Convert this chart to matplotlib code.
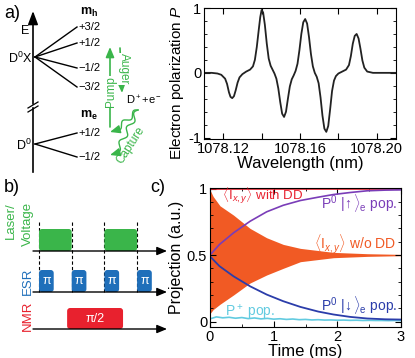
import numpy as np
import matplotlib.pyplot as plt
from matplotlib.patches import FancyBboxPatch
from matplotlib.ticker import MultipleLocator

plt.rcParams['font.family'] = ['Liberation Sans', 'DejaVu Sans']
plt.rcParams['mathtext.fontset'] = 'custom'
plt.rcParams['mathtext.rm'] = 'Liberation Sans'
plt.rcParams['mathtext.it'] = 'Liberation Sans:italic'
plt.rcParams['mathtext.bf'] = 'Liberation Sans:bold'
plt.rcParams['axes.unicode_minus'] = False

GREEN = '#3ab54a'
BLUE = '#1f6fba'
RED = '#e8212e'
ORANGE = '#f15a24'
PURPLE = '#7a3db8'
NAVY = '#2b3daa'
CYAN = '#62cbe0'

# spectrum (top right)
wavelength = [1078.110, 1078.114, 1078.117, 1078.119, 1078.121, 1078.122, 1078.123,
              1078.1238, 1078.1247, 1078.1256, 1078.1265, 1078.1275, 1078.1285,
              1078.130, 1078.132, 1078.134, 1078.1355, 1078.1365, 1078.1375,
              1078.1385, 1078.1393, 1078.1400, 1078.1408, 1078.1417, 1078.1427,
              1078.1437, 1078.1447, 1078.1457, 1078.1467, 1078.1477, 1078.1487,
              1078.1497, 1078.1507, 1078.1517, 1078.1527, 1078.1537, 1078.1547,
              1078.1557, 1078.1567, 1078.1577, 1078.1587, 1078.1597, 1078.1607,
              1078.1617, 1078.1627, 1078.1637, 1078.1647, 1078.1657, 1078.1667,
              1078.1677, 1078.1687, 1078.1697, 1078.1707, 1078.1717, 1078.1727,
              1078.1737, 1078.1747, 1078.1757, 1078.1767, 1078.1777, 1078.1787,
              1078.180, 1078.182, 1078.184, 1078.1855, 1078.1865, 1078.1875,
              1078.1885, 1078.1895, 1078.1905, 1078.1915, 1078.1925, 1078.1935,
              1078.195, 1078.198, 1078.210]
polarization = [0.00, 0.00, -0.01, -0.03, -0.09, -0.17, -0.30,
                -0.37, -0.39, -0.36, -0.27, -0.15, -0.07,
                -0.02, 0.02, 0.05, 0.10, 0.20, 0.40,
                0.66, 0.86, 0.97, 0.93, 0.74, 0.45,
                0.22, 0.11, 0.05, -0.01, -0.09, -0.24,
                -0.45, -0.63, -0.68, -0.60, -0.40, -0.21,
                -0.10, -0.04, 0.03, 0.14, 0.35, 0.60,
                0.78, 0.83, 0.76, 0.55, 0.29, 0.10,
                0.00, -0.06, -0.16, -0.38, -0.66, -0.86,
                -0.91, -0.82, -0.56, -0.28, -0.12, -0.05,
                -0.01, 0.02, 0.05, 0.12, 0.26, 0.45,
                0.57, 0.60, 0.53, 0.37, 0.19, 0.08,
                0.02, 0.00, 0.00]

# panel c: projections vs time (ms)
t_pop = [0.0, 0.15, 0.37, 0.63, 0.89, 1.15, 1.42, 1.7, 1.94, 2.2, 2.47, 2.75, 3.0]
p0_up = [0.50, 0.58, 0.667, 0.754, 0.825, 0.874, 0.91, 0.935, 0.955, 0.97, 0.983, 0.988, 0.99]
p0_down = [0.49, 0.416, 0.34, 0.265, 0.203, 0.153, 0.11, 0.075, 0.053, 0.035, 0.023, 0.017, 0.015]
t_env = [0.0, 0.05, 0.157, 0.37, 0.63, 0.89, 1.15, 1.42, 1.94, 2.47, 3.0]
ixy_hi = [0.99, 0.94, 0.87, 0.80, 0.70, 0.63, 0.58, 0.55, 0.52, 0.51, 0.505]
ixy_lo = [0.06, 0.09, 0.13, 0.20, 0.29, 0.35, 0.40, 0.45, 0.48, 0.49, 0.495]
t_dd = [0.0, 3.0]
ixy_dd = [1.0, 1.0]
t_plus = [0.0, 0.1, 0.2, 0.3, 0.4, 0.5, 0.6, 0.7, 0.8, 0.9, 1.0, 1.1, 1.2, 1.3, 1.4, 1.5,
          1.6, 1.7, 1.8, 1.9, 2.0, 2.1, 2.2, 2.3, 2.4, 2.5, 2.6, 2.7, 2.8, 2.9, 3.0]
p_plus = [0.02, 0.035, 0.028, 0.032, 0.025, 0.03, 0.022, 0.027, 0.02, 0.024, 0.018,
          0.021, 0.016, 0.019, 0.014, 0.016, 0.012, 0.014, 0.011, 0.012, 0.01, 0.011,
          0.009, 0.01, 0.008, 0.009, 0.008, 0.008, 0.007, 0.008, 0.007]

# energy levels
hole_mj = ['+3/2', '+1/2', '\u22121/2', '\u22123/2']
elec_mj = ['+1/2', '\u22121/2']

# pulse sequence, in units of the ESR pulse spacing
laser_pulses = [(0, 1), (2, 3)]
esr_pulses = [0, 1, 2, 3]
esr_width = 0.45
nmr_pulse = (0.86, 2.57)


def arrow(ax, x0, y0, x1, y1, color='k', lw=1.0, hl=0.6, hw=0.25):
    ax.annotate('', xy=(x1, y1), xytext=(x0, y0),
                arrowprops=dict(arrowstyle='-|>,head_length=%g,head_width=%g' % (hl, hw),
                                color=color, lw=lw, shrinkA=0, shrinkB=0))


def wavy(ax, p0, p1, waves, amp, color):
    s = np.linspace(0, 1, 200)
    d = np.array(p1) - np.array(p0)
    n = np.array([-d[1], d[0]]) / np.hypot(*d)
    off = amp * np.sin(2 * np.pi * waves * s)
    x = p0[0] + s * d[0] + off * n[0]
    y = p0[1] + s * d[1] + off * n[1]
    ax.plot(x, y, color=color, lw=1.0)


fig = plt.figure(figsize=(4.15, 3.58), dpi=100)

# overlay in pixel coordinates for the schematics
ov = fig.add_axes([0, 0, 1, 1])
ov.set_xlim(0, 415)
ov.set_ylim(358, 0)
ov.axis('off')

# ---- a) level diagram
ov.text(4, 14, 'a)', fontsize=13, va='center')
arrow(ov, 33, 104, 33, 11, lw=1.2, hl=0.8, hw=0.3)
ov.plot([33, 33], [108, 172], 'k', lw=1.2)
ov.plot([28, 38], [108, 102], 'k', lw=0.9)
ov.plot([28, 38], [112, 106], 'k', lw=0.9)
ov.text(29, 31, 'E', fontsize=9, ha='right', va='center')
ov.text(32, 58, 'D$^0$X', fontsize=9, ha='right', va='center')
ov.text(32, 145, 'D$^0$', fontsize=9, ha='right', va='center')

for lab, y in zip(hole_mj, [27, 43, 68, 87]):
    ov.plot([35, 77], [57, y], 'k', lw=1.0)
    ov.text(78, y, lab, fontsize=8, va='center')
for lab, y in zip(elec_mj, [133, 157]):
    ov.plot([35, 77], [144, y], 'k', lw=1.0)
    ov.text(78, y, lab, fontsize=8, va='center')
ov.text(89, 12, r'$\mathbf{m}_\mathbf{h}$', fontsize=9, ha='center', va='center')
ov.text(89, 115, r'$\mathbf{m}_\mathbf{e}$', fontsize=9, ha='center', va='center')

arrow(ov, 110, 127, 110, 47, color=GREEN, lw=1.2)
ov.text(111, 92, 'Pump', color=GREEN, fontsize=8.5, rotation=90, ha='center', va='center',
        bbox=dict(fc='white', ec='none', pad=0.5))
arrow(ov, 120, 48, 122, 93, color=GREEN, lw=1.2)
ov.text(124, 69, 'Auger', color=GREEN, fontsize=8.5, rotation=-90, ha='center', va='center',
        bbox=dict(fc='white', ec='none', pad=0.5))
ov.text(126, 100, r'D$^+$+e$^-$', fontsize=8, va='center')
wavy(ov, (138, 110), (116, 130), 2, 2.5, GREEN)
wavy(ov, (138, 110), (116, 153), 3, 2.5, GREEN)
arrow(ov, 117, 130, 110, 132, color=GREEN, lw=1.0)
arrow(ov, 117, 153, 110, 155, color=GREEN, lw=1.0)
ov.text(131, 145, 'Capture', color=GREEN, fontsize=8.5, rotation=57, ha='center', va='center')

# ---- b) pulse sequence
def tx(t):
    return 39 + 32.7 * t

y_laser, y_esr, y_nmr = 251, 292, 329
ov.text(4, 187, 'b)', fontsize=13, va='center')
ov.text(150, 187, 'c)', fontsize=13, va='center')
for t in esr_pulses:
    ov.plot([tx(t)] * 2, [222, y_esr], color='k', lw=0.8, dashes=(3, 2), zorder=1)
for t0, t1 in laser_pulses:
    ov.add_patch(FancyBboxPatch((tx(t0), 229), tx(t1) - tx(t0), y_laser - 229,
                                boxstyle='round,pad=0,rounding_size=3', fc=GREEN, ec='none', zorder=2))
for t in esr_pulses:
    ov.add_patch(FancyBboxPatch((tx(t), 270), 32.7 * esr_width, y_esr - 270,
                                boxstyle='round,pad=0,rounding_size=3', fc=BLUE, ec='none', zorder=2))
    ov.text(tx(t + esr_width / 2), 281, '\u03c0', color='white', fontsize=9,
            ha='center', va='center', zorder=3)
ov.add_patch(FancyBboxPatch((tx(nmr_pulse[0]), 308), tx(nmr_pulse[1]) - tx(nmr_pulse[0]), y_nmr - 308,
                            boxstyle='round,pad=0,rounding_size=3', fc=RED, ec='none', zorder=2))
ov.text(tx(sum(nmr_pulse) / 2), 318.5, '\u03c0/2', color='white', fontsize=9,
        ha='center', va='center', zorder=3)
for y in [y_laser, y_esr, y_nmr]:
    arrow(ov, 33, y, 167, y, lw=1.0)
ov.text(11, 202, 'Laser/', color=GREEN, fontsize=9.5, rotation=90, ha='center', va='top')
ov.text(28, 202, 'Voltage', color=GREEN, fontsize=9.5, rotation=90, ha='center', va='top')
ov.text(28, 281, 'ESR', color=BLUE, fontsize=9.5, rotation=90, ha='center', va='center')
ov.text(28, 316, 'NMR', color=RED, fontsize=9.5, rotation=90, ha='center', va='center')

# ---- top right: electron polarization
ax = fig.add_axes([204 / 415, 219 / 358, 192 / 415, 131 / 358])
ax.plot(wavelength, polarization, color='#222222', lw=1.3)
ax.set_xlim(1078.11, 1078.21)
ax.set_ylim(-1.02, 1.0)
ax.set_xticks([1078.12, 1078.14, 1078.16, 1078.18, 1078.20])
ax.set_xticklabels(['1078.12', '', '1078.16', '', '1078.20'])
ax.set_yticks([-1, 0, 1])
ax.set_yticklabels(['-1', '0', '1'])
ax.yaxis.set_minor_locator(MultipleLocator(0.2))
ax.tick_params(which='both', direction='in', top=True, right=True, labelsize=10.5, pad=2)
ax.tick_params(which='major', length=4)
ax.tick_params(which='minor', length=2.5)
ax.set_xlabel('Wavelength (nm)', fontsize=12, labelpad=0)
ax.set_ylabel('Electron polarization $P$', fontsize=11)
ax.yaxis.set_label_coords(-0.095, 0.43)

# ---- c) projections
axc = fig.add_axes([210 / 415, 31 / 358, 191 / 415, 139 / 358])
axc.fill_between(t_env, ixy_lo, ixy_hi, color=ORANGE, lw=0)
axc.plot(t_dd, ixy_dd, color=RED, lw=1.2)
axc.plot(t_plus, p_plus, color=CYAN, lw=1.2)
axc.plot(t_pop, p0_up, color=PURPLE, lw=1.2)
axc.plot(t_pop, p0_down, color=NAVY, lw=1.3)
axc.set_xlim(0, 3)
axc.set_ylim(-0.041, 1.004)
axc.set_xticks([0, 1, 2, 3])
axc.set_yticks([0, 0.5, 1])
axc.set_yticklabels(['0', '0.5', '1'])
axc.xaxis.set_minor_locator(MultipleLocator(0.5))
axc.yaxis.set_minor_locator(MultipleLocator(0.1))
axc.tick_params(which='both', direction='in', top=True, right=True, labelsize=10.5, pad=2)
axc.tick_params(which='major', length=4)
axc.tick_params(which='minor', length=2.5)
axc.set_xlabel('Time (ms)', fontsize=12, labelpad=0)
axc.set_ylabel('Projection (a.u.)', fontsize=11.5, labelpad=2)

axc.text(0.19, 0.945, r'$\langle\mathrm{I}_{x,y}\rangle$ with DD', color=RED, fontsize=9.5, va='center')
axc.text(2.94, 0.89, r'P$^0$ $|\!\uparrow\rangle_\mathrm{e}$ pop.', color=PURPLE, fontsize=10,
         ha='right', va='center')
axc.text(2.92, 0.59, r'$\langle\mathrm{I}_{x,y}\rangle$ w/o DD', color=ORANGE, fontsize=10,
         ha='right', va='center')
axc.text(2.94, 0.124, r'P$^0$ $|\!\downarrow\rangle_\mathrm{e}$ pop.', color=NAVY, fontsize=10,
         ha='right', va='center')
axc.text(0.24, 0.07, r'P$^+$ pop.', color=CYAN, fontsize=10, va='center')

fig.savefig('out.png', dpi=100)
